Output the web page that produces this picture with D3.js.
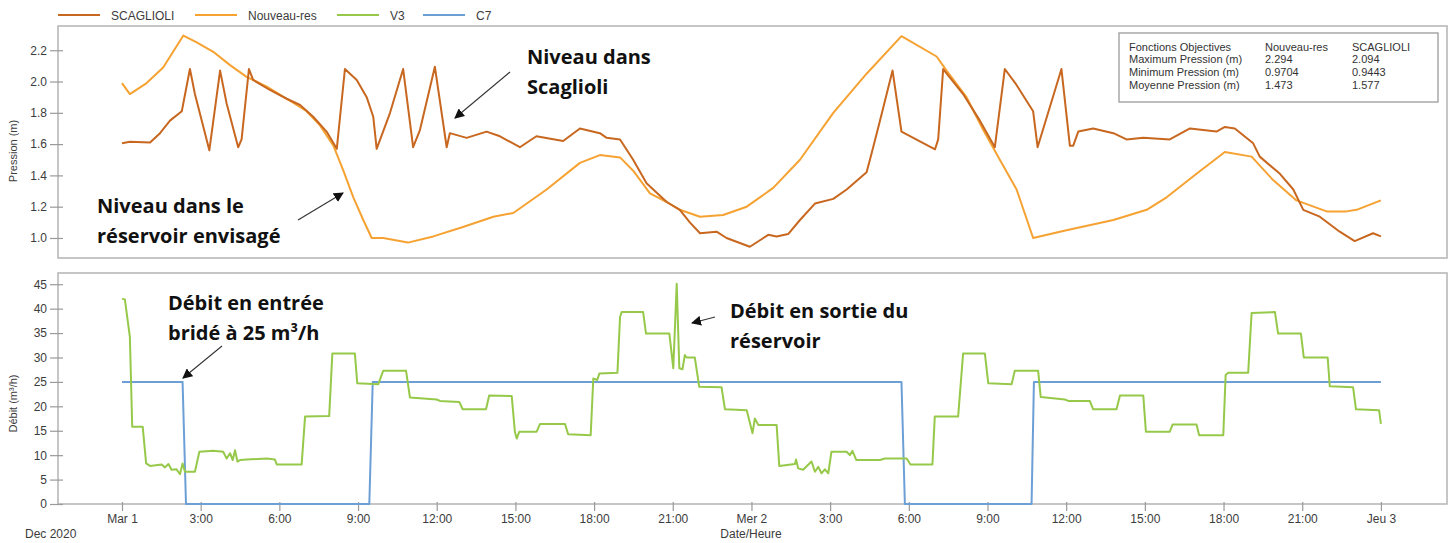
<!DOCTYPE html>
<html>
<head>
<meta charset="utf-8">
<script src="https://cdn.jsdelivr.net/npm/d3@7"></script>
<style>
  html, body { margin: 0; padding: 0; background: #fff; }
  svg { display: block; font-family: "Liberation Sans", Arial, sans-serif; }
</style>
</head>
<body>
<script>
// Series: hours since Tue 1 Dec 2020 00:00, values read per series
const scaglioliHours = [0, 0.3, 1.07, 1.45, 1.83, 2.28, 2.59, 2.78, 3.33, 3.74, 3.99, 4.43, 4.56, 4.84, 5.0, 5.64, 6.28, 6.79, 7.29, 7.8,
  8.19, 8.5, 8.95, 9.33, 9.58, 9.71, 10.22, 10.72, 11.1, 11.36, 11.93, 12.38, 12.5, 13.14, 13.9, 14.41, 15.17, 15.8, 16.82, 17.46,
  18.22, 18.48, 18.99, 19.49, 20.0, 20.77, 21.27, 21.65, 22.04, 22.67, 23.05, 23.94, 24.64, 24.96, 25.4, 25.85, 26.42, 27.12, 27.63, 28.39,
  28.58, 28.9, 29.38, 29.72, 31.0, 31.12, 31.31, 32.07, 32.71, 33.28, 33.66, 34.1, 34.74, 34.91, 35.82, 36.14, 36.27, 36.46, 37.03, 37.8,
  38.3, 38.94, 39.95, 40.72, 41.73, 42.05, 42.43, 43.13, 43.38, 44.15, 44.66, 45.04, 45.67, 46.43, 47.0, 47.7, 48.0];
const scaglioliValues = [1.605, 1.615, 1.61, 1.67, 1.75, 1.81, 2.08, 1.92, 1.56, 2.07, 1.86, 1.58, 1.63, 2.08, 2.01, 1.946, 1.89, 1.85, 1.775, 1.68,
  1.57, 2.08, 2.01, 1.9, 1.775, 1.57, 1.8, 2.08, 1.58, 1.69, 2.094, 1.58, 1.67, 1.64, 1.68, 1.65, 1.58, 1.65, 1.62, 1.70,
  1.67, 1.64, 1.63, 1.5, 1.35, 1.23, 1.18, 1.10, 1.03, 1.04, 1.0, 0.944, 1.02, 1.01, 1.025, 1.115, 1.22, 1.25, 1.31, 1.42,
  1.54, 1.75, 2.07, 1.68, 1.567, 1.63, 2.08, 1.92, 1.75, 1.58, 2.08, 1.98, 1.81, 1.58, 2.08, 1.59, 1.59, 1.68, 1.70, 1.67,
  1.63, 1.64, 1.63, 1.70, 1.68, 1.71, 1.70, 1.605, 1.52, 1.41, 1.31, 1.18, 1.136, 1.04, 0.98, 1.03, 1.01];

const nouveauHours = [0, 0.3, 0.94, 1.57, 2.34, 2.85, 3.48, 4.12, 4.75, 5.52, 6.28, 7.04, 7.55, 8.06, 8.44, 8.82, 9.2, 9.52, 9.96, 10.9,
  11.87, 13.0, 14.16, 14.92, 16.19, 17.46, 18.22, 18.99, 19.49, 20.13, 20.77, 21.27, 22.04, 22.92, 23.82, 24.83, 25.85, 27.12, 28.39, 29.72,
  31.06, 31.44, 32.2, 32.84, 33.47, 34.11, 34.74, 36.01, 37.8, 39.07, 39.83, 40.97, 42.05, 43.07, 43.89, 44.78, 45.93, 46.69, 47.07, 48.0];
const nouveauValues = [1.99, 1.92, 1.99, 2.09, 2.294, 2.25, 2.19, 2.105, 2.03, 1.967, 1.89, 1.81, 1.72, 1.59, 1.43, 1.26, 1.115, 1.0, 1.0, 0.9704,
  1.01, 1.07, 1.136, 1.16, 1.31, 1.48, 1.53, 1.515, 1.43, 1.285, 1.23, 1.18, 1.136, 1.147, 1.2, 1.32, 1.5, 1.8, 2.05, 2.29,
  2.16, 2.07, 1.9, 1.69, 1.5, 1.31, 1.0, 1.05, 1.115, 1.18, 1.26, 1.41, 1.55, 1.52, 1.37, 1.24, 1.17, 1.17, 1.18, 1.24];

const v3Hours = [0, 0.11, 0.3, 0.39, 0.79, 0.92, 1.07, 1.51, 1.64, 1.77, 1.89, 2.08, 2.21, 2.31, 2.4, 2.78, 2.95, 3.48, 3.86, 3.99,
  4.12, 4.22, 4.31, 4.4, 4.5, 4.75, 5.52, 5.83, 5.9, 6.85, 6.98, 7.9, 8.02, 8.88, 8.97, 9.77, 9.96, 10.83, 10.98, 12.0,
  12.12, 12.86, 12.99, 13.88, 14.0, 14.86, 14.98, 15.05, 15.15, 15.81, 15.94, 16.89, 17.01, 17.87, 17.97, 18.12, 18.2, 18.89, 18.99, 19.05,
  19.87, 19.98, 20.87, 21.02, 21.15, 21.25, 21.37, 21.46, 21.53, 21.84, 22.01, 22.86, 22.99, 23.82, 24.04, 24.13, 24.26, 24.96, 25.06, 25.66,
  25.7, 25.78, 25.97, 26.29, 26.42, 26.55, 26.67, 26.8, 26.93, 27.05, 27.63, 27.75, 27.85, 28.0, 28.9, 29.09, 29.92, 30.06, 30.9, 30.99,
  31.88, 32.07, 32.9, 33.03, 33.92, 34.04, 34.93, 35.03, 35.95, 36.08, 36.9, 37.03, 37.92, 38.05, 38.94, 39.04, 39.95, 40.06, 40.97, 41.07,
  41.99, 42.08, 42.18, 42.94, 43.07, 43.96, 44.08, 44.95, 45.06, 45.97, 46.05, 46.94, 47.05, 47.93, 48.0];
const v3Values = [42, 41.9, 34.2, 15.8, 15.8, 8.3, 7.8, 8.1, 7.5, 8.2, 7.0, 7.1, 6.1, 8.3, 6.6, 6.6, 10.7, 10.9, 10.7, 9.3,
  10.4, 9.0, 11.0, 8.7, 9.0, 9.1, 9.3, 9.1, 8.1, 8.1, 17.9, 18.0, 30.8, 30.8, 24.7, 24.5, 27.3, 27.3, 21.8, 21.4,
  21.1, 20.9, 19.4, 19.4, 22.2, 22.1, 14.8, 13.4, 14.8, 14.8, 16.4, 16.4, 14.3, 14.1, 25.7, 25.4, 26.7, 26.9, 38.3, 39.3,
  39.3, 34.9, 34.9, 27.8, 45.1, 27.8, 27.6, 30.5, 30.0, 30.0, 24.0, 23.9, 19.4, 19.2, 14.5, 17.5, 16.2, 16.2, 7.8, 8.2,
  9.1, 7.3, 7.0, 8.7, 6.6, 7.6, 6.3, 7.1, 6.3, 10.7, 10.7, 10.0, 10.9, 9.0, 9.0, 9.3, 9.3, 8.1, 8.1, 17.9,
  17.9, 30.8, 30.8, 24.7, 24.5, 27.3, 27.3, 21.9, 21.4, 21.1, 21.1, 19.4, 19.4, 22.2, 22.2, 14.8, 14.8, 16.3, 16.3, 14.1,
  14.1, 26.4, 26.9, 26.9, 39.1, 39.3, 34.9, 34.9, 30.0, 30.0, 24.1, 23.9, 19.4, 19.2, 16.4];

const c7Hours = [0, 2.31, 2.44, 9.43, 9.56, 29.72, 29.85, 34.68, 34.77, 48];
const c7Values = [25, 25, 0, 0, 25, 25, 0, 0, 25, 25];

const pressureTicks = [1.0, 1.2, 1.4, 1.6, 1.8, 2.0, 2.2];
const flowTicks = [0, 5, 10, 15, 20, 25, 30, 35, 40, 45];
const tickHours = d3.range(0, 49, 3);
const dayNames = ["Dim", "Lun", "Mar", "Mer", "Jeu", "Ven", "Sam"];

const seriesNames = ["SCAGLIOLI", "Nouveau-res", "V3", "C7"];
const seriesColors = ["#c8671f", "#f5a232", "#96c94a", "#6c9fd6"];

const statsHeader = ["Fonctions Objectives", "Nouveau-res", "SCAGLIOLI"];
const statsRows = [
  ["Maximum Pression (m)", "2.294", "2.094"],
  ["Minimum Pression (m)", "0.9704", "0.9443"],
  ["Moyenne Pression (m)", "1.473", "1.577"]
];

// ---------------------------------------------------------------
const W = 1453, H = 543;
const start = new Date(2020, 11, 1, 0, 0);
const at = h => new Date(start.getTime() + h * 3600e3);

const svg = d3.select("body").append("svg").attr("width", W).attr("height", H);
svg.append("rect").attr("width", W).attr("height", H).attr("fill", "#fff");

const left = 58, right = 1447;
const top1 = 26, bot1 = 258, top2 = 273, bot2 = 504;

const x = d3.scaleTime().domain([at(-2.44), at(50.52)]).range([left, right]);
const yP = d3.scaleLinear().domain([0.872, 2.355]).range([bot1, top1]);
const yQ = d3.scaleLinear().domain([0, 47.3]).range([bot2, top2]);

const frameColor = "#b8b8b8", tickColor = "#9a9a9a", textColor = "#3c3c3c";

// panel frames
[[top1, bot1], [top2, bot2]].forEach(([t, b]) => {
  svg.append("rect").attr("x", left).attr("y", t).attr("width", right - left).attr("height", b - t)
    .attr("fill", "none").attr("stroke", frameColor).attr("stroke-width", 1.6);
});

function styleAxis(g) {
  g.select(".domain").remove();
  g.selectAll(".tick line").attr("stroke", tickColor).attr("stroke-width", 1.2);
  g.selectAll(".tick text").attr("fill", textColor).style("font-size", "12px")
    .style("font-family", "'Liberation Sans', Arial, sans-serif");
}

svg.append("g").attr("transform", `translate(${left + 5},0)`)
  .call(d3.axisLeft(yP).tickValues(pressureTicks).tickFormat(d3.format(".1f")).tickSize(13).tickPadding(3))
  .call(styleAxis);
svg.append("g").attr("transform", `translate(${left + 5},0)`)
  .call(d3.axisLeft(yQ).tickValues(flowTicks).tickFormat(d3.format("d")).tickSize(13).tickPadding(3))
  .call(styleAxis);

const fmtTick = d => d.getHours() === 0 ? `${dayNames[d.getDay()]} ${d.getDate()}` : `${d.getHours()}:00`;
svg.append("g").attr("transform", `translate(0,${bot2 - 2})`)
  .call(d3.axisBottom(x).tickValues(tickHours.map(at)).tickFormat(fmtTick).tickSize(9).tickPadding(3))
  .call(styleAxis);

// axis titles
svg.append("text").attr("transform", `translate(17,${(top1 + bot1) / 2 + 9}) rotate(-90)`)
  .attr("text-anchor", "middle").attr("fill", textColor).style("font-size", "11px").text("Pression (m)");
svg.append("text").attr("transform", `translate(17,${(top2 + bot2) / 2 + 15}) rotate(-90)`)
  .attr("text-anchor", "middle").attr("fill", textColor).style("font-size", "11px").text("Débit (m³/h)");
svg.append("text").attr("x", 751).attr("y", 538).attr("text-anchor", "middle")
  .attr("fill", textColor).style("font-size", "12px").text("Date/Heure");
svg.append("text").attr("x", 25).attr("y", 538).attr("fill", textColor)
  .style("font-size", "12px").text("Dec 2020");

// lines
const pLine = d3.line().x(d => x(at(d[0]))).y(d => yP(d[1]));
const qLine = d3.line().x(d => x(at(d[0]))).y(d => yQ(d[1]));
const zip = (a, b) => a.map((h, i) => [h, b[i]]);

function draw(gen, data, color) {
  svg.append("path").datum(data).attr("d", gen).attr("fill", "none")
    .attr("stroke", color).attr("stroke-width", 2).attr("stroke-linejoin", "round");
}
draw(pLine, zip(nouveauHours, nouveauValues), seriesColors[1]);
draw(pLine, zip(scaglioliHours, scaglioliValues), seriesColors[0]);
draw(qLine, zip(c7Hours, c7Values), seriesColors[3]);
draw(qLine, zip(v3Hours, v3Values), seriesColors[2]);

// legend
const legendX = [58, 195, 337, 423];
seriesNames.forEach((name, i) => {
  const lx = legendX[i];
  svg.append("line").attr("x1", lx).attr("x2", lx + 42).attr("y1", 15).attr("y2", 15)
    .attr("stroke", seriesColors[i]).attr("stroke-width", 2);
  svg.append("text").attr("x", lx + 53).attr("y", 19.5).attr("fill", textColor)
    .style("font-size", "12px").text(name);
});

// statistics box
const box = svg.append("g");
box.append("rect").attr("x", 1119).attr("y", 33).attr("width", 319).attr("height", 69)
  .attr("fill", "#fff").attr("stroke", "#a8a8a8").attr("stroke-width", 1.5);
const colX = [1129, 1265, 1352];
[statsHeader, ...statsRows].forEach((row, r) => {
  row.forEach((cell, c) => {
    box.append("text").attr("x", colX[c]).attr("y", 50.5 + r * 12.8).attr("fill", "#333")
      .style("font-size", "11px").text(cell);
  });
});

// annotations
const defs = svg.append("defs");
defs.append("marker").attr("id", "head").attr("viewBox", "0 0 10 10").attr("refX", 9).attr("refY", 5)
  .attr("markerWidth", 10).attr("markerHeight", 10).attr("markerUnits", "userSpaceOnUse").attr("orient", "auto")
  .append("path").attr("d", "M0,0 L10,5 L0,10 Z").attr("fill", "#111");

const notes = [
  { lines: ["Niveau dans", "Scaglioli"], x: 527, y: 64, arrow: [510, 72, 455, 118] },
  { lines: ["Niveau dans le", "réservoir envisagé"], x: 97, y: 213, arrow: [298, 220, 343, 193] },
  { lines: ["Débit en entrée", "bridé à 25 m³/h"], x: 168, y: 310, arrow: [222, 346, 183, 378] },
  { lines: ["Débit en sortie du", "réservoir"], x: 730, y: 318, arrow: [715, 317, 692, 323] }
];
notes.forEach(n => {
  n.lines.forEach((t, i) => {
    svg.append("text").attr("x", n.x).attr("y", n.y + i * 30).attr("fill", "#111")
      .style("font-family", "'Open Sans', sans-serif").style("font-weight", 700).style("font-size", "20px")
      .text(t);
  });
  const [x1, y1, x2, y2] = n.arrow;
  svg.append("line").attr("x1", x1).attr("y1", y1).attr("x2", x2).attr("y2", y2)
    .attr("stroke", "#333").attr("stroke-width", 1.1).attr("marker-end", "url(#head)");
});
</script>
</body>
</html>
